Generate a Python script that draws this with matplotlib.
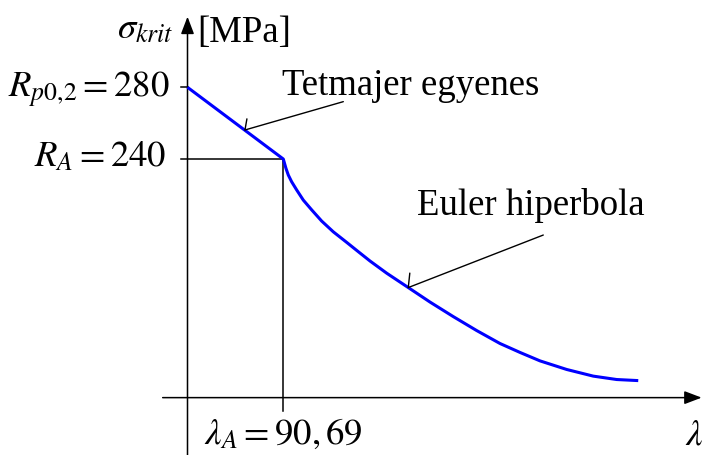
import matplotlib
matplotlib.use('Agg')
import matplotlib.pyplot as plt

plt.rcParams['font.family'] = ['Liberation Serif', 'DejaVu Serif']
plt.rcParams['mathtext.fontset'] = 'stix'

# characteristic values
R_p02 = 280
R_A = 240
lambda_A = 90.69

# Tetmajer line
tet_lam = [0, lambda_A]
tet_sig = [R_p02, R_A]

# Euler hyperbola (schematic scale)
eul_lam = [90.69, 93.2, 95.4, 98.6, 103.4, 109.6, 117.6, 127.0, 138.0, 150.7,
           161.7, 172.8, 188.6, 209.0, 229.6, 251.6, 273.8, 295.8, 314.8, 333.7,
           359.0, 384.1, 406.3, 426.7]
eul_sig = [240.0, 234.8, 231.1, 227.3, 222.7, 217.1, 211.6, 205.4, 199.4, 193.5,
           188.3, 183.1, 176.3, 168.3, 160.2, 152.1, 144.3, 137.1, 132.1, 127.4,
           122.6, 118.9, 117.0, 116.4]

# axis frame of the sketch
lam_min, lam_max = -177.5, 488.0
sig_min, sig_max = 74.9, 328.7
axis_sig = 106.9      # where the lambda axis crosses
x_axis_start, x_axis_tip = -23.5, 486.7
y_axis_tip = 319.4
tick_left = -6.2
vline_bottom = 99.6

fig = plt.figure(figsize=(7.03, 4.55), dpi=100)
ax = fig.add_axes([0, 0, 1, 1])
ax.set_xlim(lam_min, lam_max)
ax.set_ylim(sig_min, sig_max)
ax.axis('off')

arrow = dict(arrowstyle='-|>,head_length=1.05,head_width=0.4', mutation_scale=10,
             color='black', lw=1.1, shrinkA=0, shrinkB=0)
ax.annotate('', xy=(x_axis_tip, axis_sig), xytext=(x_axis_start, axis_sig), arrowprops=arrow)
ax.annotate('', xy=(0, y_axis_tip), xytext=(0, sig_min), arrowprops=arrow)

# ticks and guide lines
ax.plot([tick_left, 0], [R_p02, R_p02], color='black', lw=1.1)
ax.plot([tick_left, lambda_A], [R_A, R_A], color='black', lw=1.1)
ax.plot([lambda_A, lambda_A], [vline_bottom, R_A], color='black', lw=1.1)

# curve
ax.plot(tet_lam + eul_lam[1:], tet_sig + eul_sig[1:], color='#0000ff', lw=2.2,
        solid_capstyle='butt', solid_joinstyle='round', zorder=3)

fs = 26.5

# labels on axes
ax.annotate(r'$R_{p0{,}2} = 280$', xy=(0, R_p02), xytext=(-12.6, -6.8), textcoords='offset points',
            ha='right', va='baseline', fontsize=fs)
ax.annotate(r'$R_{A} = 240$', xy=(0, R_A), xytext=(-15.0, -5.3), textcoords='offset points',
            ha='right', va='baseline', fontsize=fs)
ax.annotate(r'$\lambda_{A} = 90,69$', xy=(lambda_A, axis_sig), xytext=(0, -33.5),
            textcoords='offset points', ha='center', va='baseline', fontsize=fs)
ax.annotate(r'$\lambda$', xy=(x_axis_tip, axis_sig), xytext=(-12.0, -33.5),
            textcoords='offset points', ha='left', va='baseline', fontsize=fs)
ax.annotate(r'$\sigma_{krit}$', xy=(0, R_p02), xytext=(-10.2, 35.3),
            textcoords='offset points', ha='right', va='baseline', fontsize=fs)
ax.annotate('[MPa]', xy=(0, R_p02), xytext=(6.8, 32.8),
            textcoords='offset points', ha='left', va='baseline', fontsize=fs)

# pointer labels
ax.text(89.2, 275.7, 'Tetmajer egyenes', ha='left', va='baseline', fontsize=fs)
ax.text(217.0, 208.8, 'Euler hiperbola', ha='left', va='baseline', fontsize=fs)

line = dict(arrowstyle='-', color='black', lw=1.0, shrinkA=0, shrinkB=0)
tet_tip = (54.4, 256.2)
eul_tip = (209.0, 168.3)
ax.annotate('', xy=tet_tip, xytext=(147.5, 272.0), arrowprops=line)
ax.annotate('', xy=tet_tip, xytext=(1.4, 8.0), textcoords='offset points', arrowprops=line)
ax.annotate('', xy=eul_tip, xytext=(336.8, 197.6), arrowprops=line)
ax.annotate('', xy=eul_tip, xytext=(1.1, 10.4), textcoords='offset points', arrowprops=line)

fig.savefig('out.png', dpi=100)
